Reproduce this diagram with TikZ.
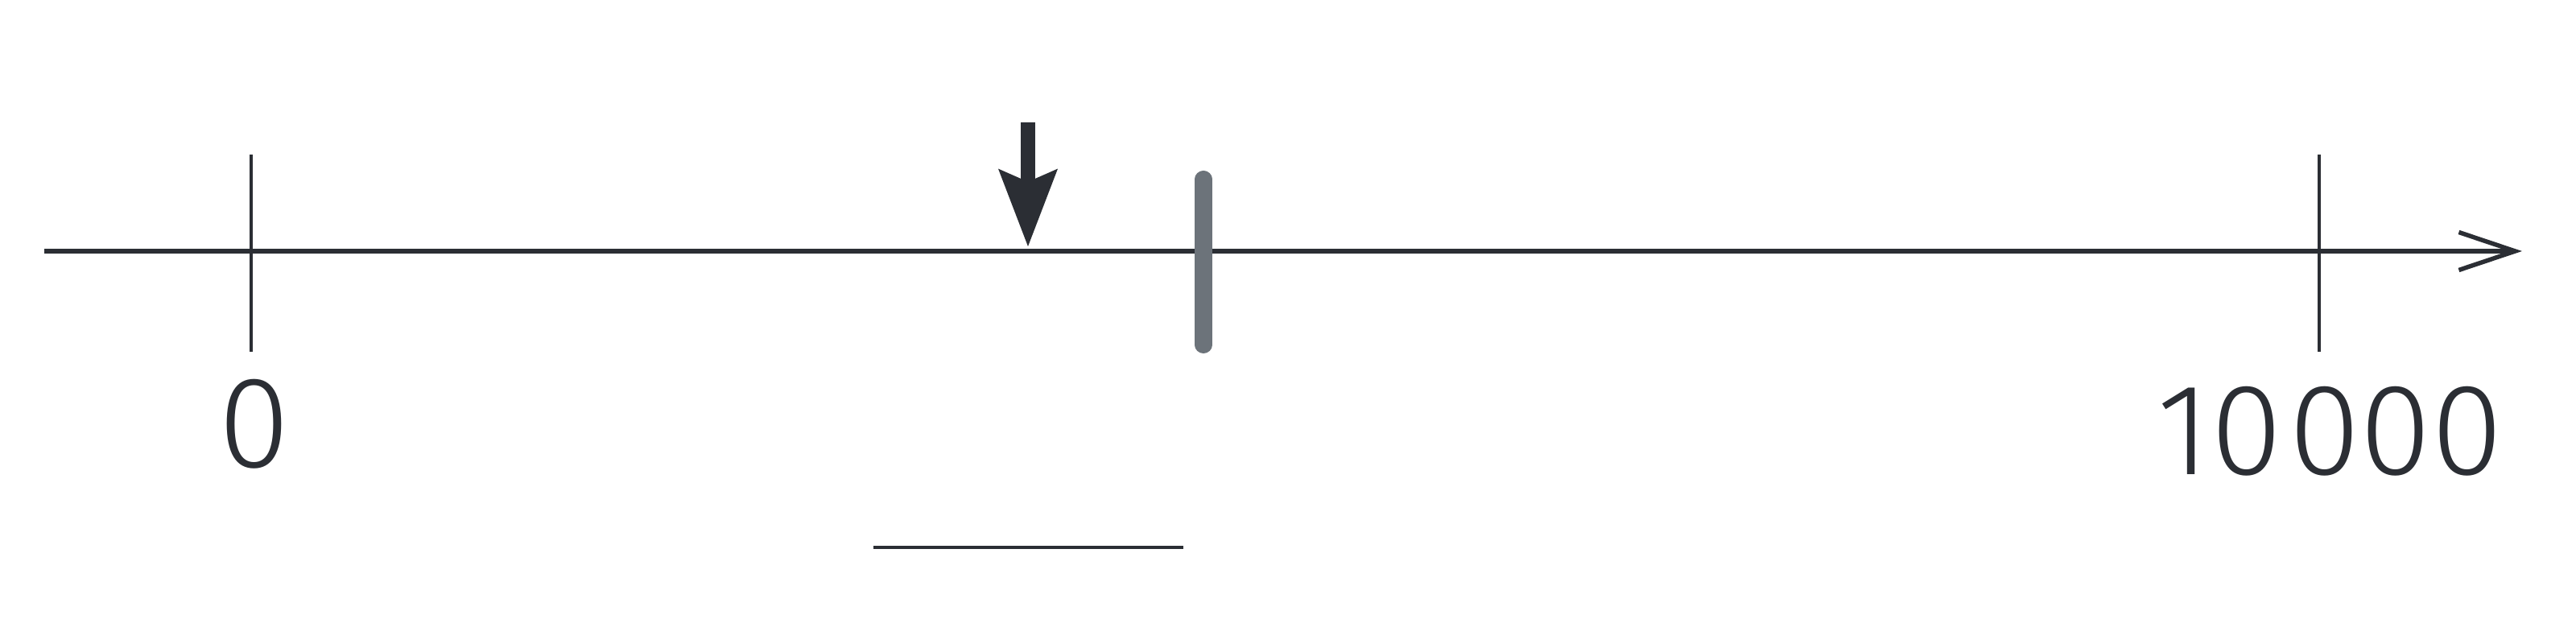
\documentclass[tikz,border=0pt]{standalone}
\usepackage{fontspec}
\IfFontExistsTF{Fira Sans Light}{\setmainfont{Fira Sans Light}}{\setmainfont{Open Sans}}
\usetikzlibrary{arrows.meta}
\definecolor{ink}{RGB}{43,46,52}
\definecolor{markgray}{RGB}{108,115,122}
\tikzset{
  axisline/.style={draw=ink,line width=1.55pt,-{Straight Barb[length=7mm,width=4.7mm,line width=1.55pt]}},
  tickline/.style={draw=ink,line width=1.15pt},
  pointer/.style={draw=ink,line width=5.1pt,-{Stealth[length=9.5mm,width=7mm,inset=1.4mm]}},
  markbar/.style={draw=markgray,line width=6pt,line cap=round},
  blankline/.style={draw=ink,line width=1.2pt},
  numlabel/.style={text=ink,inner sep=0pt,font=\fontsize{46}{46}\selectfont}
}
\begin{document}
\begin{tikzpicture}[x=1cm,y=1cm]
\useasboundingbox (0,0) rectangle (32,8);
\coordinate (a1) at (0.55,4.88);
\coordinate (a2) at (31.33,4.88);
\coordinate (t1) at (3.12,6.08);
\coordinate (t2) at (3.12,3.63);
\coordinate (t3) at (28.81,6.08);
\coordinate (t4) at (28.81,3.63);
\coordinate (p1) at (12.77,6.48);
\coordinate (p2) at (12.77,4.93);
\coordinate (m1) at (14.95,5.775);
\coordinate (m2) at (14.95,3.715);
\coordinate (b1) at (10.85,1.20);
\coordinate (b2) at (14.70,1.20);

\node[numlabel] (zero) at (3.16,2.735) {0};
\node[numlabel] (tenk) at (28.945,2.645) {10\kern0.05em000};

\draw [axisline] (a1) -- (a2);
\draw [tickline] (t1) -- (t2);
\draw [tickline] (t3) -- (t4);
%%%%%%%%
\draw [pointer] (p1) -- (p2);
\draw [markbar] (m1) -- (m2);
%%%%%%%%%%%%
\draw [blankline] (b1) -- (b2);

%%%%%%%%%%%%%%%%%%%%%%%%%%%%%%%%%%%
\end{tikzpicture}
\end{document}
